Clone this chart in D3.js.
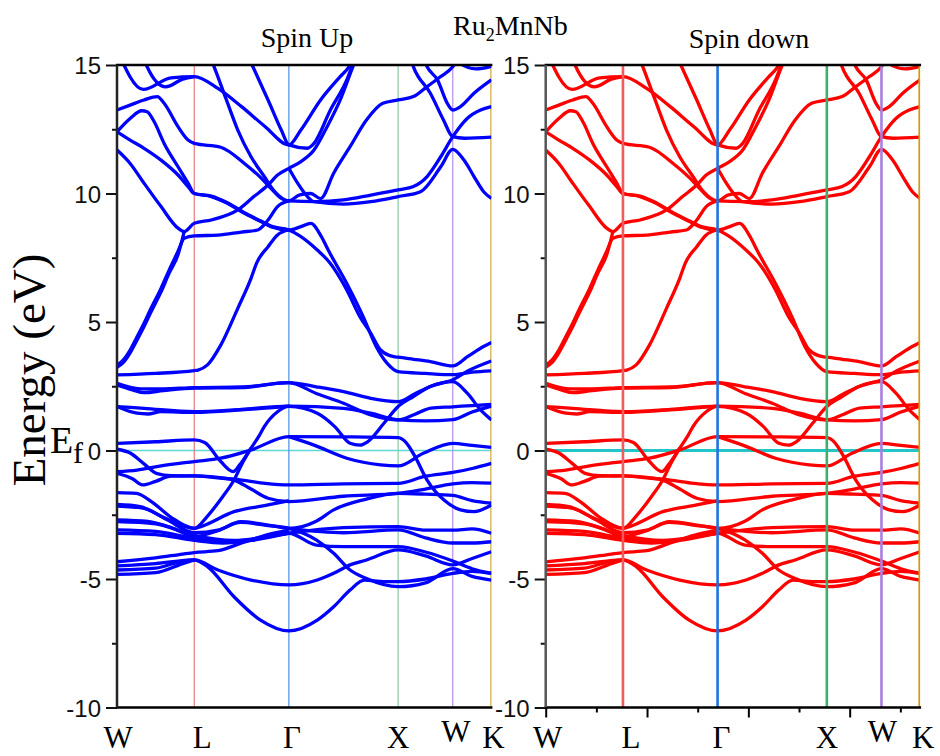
<!DOCTYPE html>
<html>
<head>
<meta charset="utf-8">
<script src="https://cdn.jsdelivr.net/npm/d3@7/dist/d3.min.js"></script>
<style>
  body { margin: 0; background: #fff; }
  svg { display: block; }
</style>
</head>
<body>
<div id="chart"></div>
<script>
// high-symmetry path W-L-G-X-W-K (fcc), band points are [t, E]
// t = position along the path in segment units: 0=W 1=L 2=G 3=X 4=W 5=K
const kLabels = ["W", "L", "Γ", "X", "W", "K"]
const kPath = [0, 0.7071, 1.5731, 2.5731, 3.0731, 3.4267]
const energyTicks = [-10, -5, 0, 5, 10, 15]
const energyMinor = [-7.5, -2.5, 2.5, 7.5, 12.5]
const kAxisTicks = [0, 1, 2, 3]
const kAxisMinor = [0.5, 1.5, 2.5, 3.5]
const kAxisMax = 3.695
const fermiLevel = 0

const upperBands = [
  [[0,15.6],[0.34,14.05],[0.7,14.5],[1,14.55],[1.25,14.09],[1.5,13.38],[1.75,12.6],[2,11.89],[2.11,12.47],[2.29,13.64],[2.47,14.55],[2.55,14.93],[2.7,16.5]],
  [[0.25,16.3],[0.39,14.93],[0.63,14.15],[0.85,14.45],[1,14.55]],
  [[1.45,16.3],[1.62,14.93],[1.78,13.64],[1.92,12.47],[2,11.89],[2.17,11.76],[2.23,11.95],[2.38,13.25],[2.53,14.42],[2.6,15.2],[2.7,16.3]],
  [[0,11.69],[0.17,11.17],[0.35,10.4],[0.57,9.49],[0.79,8.65],[0.87,8.52],[1,8.84],[1.18,8.97],[1.46,9.36],[1.63,9.88],[1.78,10.33],[1.88,10.72],[2,10.98],[2.11,11.24],[2.23,11.69],[2.35,12.6],[2.47,13.64],[2.58,14.87],[2.65,15.6]],
  [[0,13.25],[0.17,13.44],[0.35,13.64],[0.52,13.77],[0.61,13.51],[0.79,12.6],[0.92,12.08],[1,11.95],[1.28,11.8],[1.53,11.17],[1.71,10.59],[1.81,10.2],[1.92,9.81],[2,9.71],[2.25,9.68],[2.5,9.75],[2.75,9.94],[3,10.14],[3.28,10.27],[3.53,10.66],[3.78,11.43],[4,12.21],[4.38,12.93],[4.72,13.25],[5,13.38]],
  [[2,10.98],[2.08,10.4],[2.17,9.88],[2.23,9.68],[2.5,9.59],[2.75,9.68],[3,9.88],[3.41,10.07],[3.78,11.04],[4,11.72],[4.29,11.3],[4.55,10.66],[4.8,10.07],[5,9.81]],
  [[1.1,15.9],[1.21,14.93],[1.34,13.64],[1.46,12.47],[1.6,11.43],[1.74,10.66],[1.85,10.07],[2,9.71],[2.1,9.95],[2.2,10.0],[2.29,9.8],[2.41,10.79],[2.56,11.82],[2.71,12.86],[2.86,13.51],[3,13.64],[3.28,13.77],[3.53,14.16],[3.78,14.55],[4,14.93],[4.2,15.4]],
  [[3.1,16.2],[3.28,14.93],[3.59,13.9],[3.83,12.86],[4,12.21],[4.3,12.15],[5,12.19]],
  [[3.35,16],[3.53,14.93],[3.72,14.42],[3.9,13.51],[4,13.25],[4.2,13.38],[4.55,13.9],[5,14.42]],
  [[3.9,16],[4.2,15.05],[4.6,14.85],[5,14.95]],
  [[0,12.4],[0.17,12.92],[0.32,13.22],[0.39,13.18],[0.48,12.8],[0.61,11.95],[0.79,11.04],[0.92,10.4],[1,10.0],[1.18,9.88],[1.35,9.62],[1.53,9.23],[1.71,8.9],[1.81,8.71],[2,8.58],[2.11,8.71],[2.2,8.84],[2.3,8.3],[2.36,7.8],[2.53,6.5],[2.68,5.21],[2.8,4.04],[2.9,3.39],[3,3.07],[3.5,3.0],[4,2.95],[4.5,3.05],[5,3.1]],
  [[0,12.4],[0.17,12.08],[0.35,11.76],[0.57,11.3],[0.79,10.72],[0.92,10.27],[1,10.0],[1.18,9.9],[1.35,9.64],[1.53,9.25],[1.71,8.92],[1.81,8.73],[2,8.58],[2.1,8.35],[2.26,7.8],[2.38,7.28],[2.53,6.25],[2.65,5.21],[2.75,4.56],[2.84,3.91],[2.96,3.65],[3,3.63],[3.28,3.55],[3.59,3.46],[4,3.29],[4.38,3.65],[4.72,3.98],[5,4.2]]
]

const middleBands = [
  [[0,2.94],[0.5,3.0],[1,3.11],[1.04,3.13],[1.14,3.33],[1.28,4.1],[1.46,5.53],[1.6,6.7],[1.66,7.3],[1.78,7.93],[1.88,8.39],[2,8.58]],
  [[0,3.33],[0.08,3.52],[0.17,3.91],[0.26,4.43],[0.35,4.95],[0.43,5.47],[0.57,6.31],[0.675,7.02],[0.79,7.75],[0.87,8.26],[1,8.35],[1.25,8.38],[1.5,8.5],[1.67,8.58],[1.78,8.97],[1.88,9.49],[2,9.71]],
  [[0,3.24],[0.08,3.42],[0.17,3.8],[0.26,4.3],[0.35,4.82],[0.43,5.33],[0.57,6.17],[0.675,6.9],[0.79,7.62],[0.87,8.52]],
  [[0,2.61],[0.3,2.4],[0.6,2.4],[1,2.45],[1.5,2.47],[2,2.64],[2.25,2.48],[2.5,2.29],[2.75,2.03],[3,1.9],[3.3,2.2],[3.6,2.5],[4,2.75],[4.4,3.1],[5,3.48]],
  [[0,2.55],[0.2,2.36],[0.35,2.25],[0.6,2.33],[1,2.43],[1.5,2.45],[2,2.64],[2.25,2.22],[2.5,1.84],[2.75,1.38],[3,1.19],[3.3,1.4],[3.6,1.65],[4,1.7],[4.5,1.75],[5,1.79]],
  [[0,1.71],[0.35,1.64],[1,1.51],[1.5,1.6],[2,1.73],[2.5,1.64],[2.75,1.45],[3,1.19],[3.5,1.15],[4,1.2],[4.5,1.5],[5,1.73]],
  [[0,1.71],[0.26,1.45],[0.4,1.42],[0.57,1.51],[1,1.48],[1.5,1.58],[2,1.73]],
  [[0,0.28],[0.5,0.34],[1,0.41],[1.11,0.31],[1.28,-0.43],[1.41,-0.82],[1.48,-0.56],[1.6,0.09],[1.69,0.6],[1.74,0.93],[1.88,1.51],[2,1.72],[2.26,1.45],[2.42,0.93],[2.56,0.28],[2.65,0.21],[2.72,0.34],[2.87,1.06],[3,1.71],[3.28,2.1],[3.59,2.49],[4,2.68],[4.38,2.22],[4.72,1.58],[5,1.19]],
  [[0,-0.82],[0.26,-0.76],[0.57,-0.6],[1,-0.43],[1.28,-0.3],[1.6,0.02],[2,0.54],[2.5,0.53],[3,0.5],[3.15,0.3],[3.3,-0.2],[3.53,-1.15],[3.84,-1.93],[4.2,-2.31],[4.55,-2.38],[5,-2.12]],
  [[2,0.54],[2.23,0.21],[2.53,-0.3],[2.84,-0.56],[3,-0.6],[3.47,-0.1],[4,0.28],[4.5,0.2],[5,0.12]]
]

const lowerBands = [
  [[0,0.05],[0.17,-0.1],[0.35,-0.52],[0.52,-0.9],[0.7,-0.98],[1,-0.99],[1.25,-1.05],[1.42,-1.15],[1.6,-1.5],[1.78,-1.86],[2,-1.99],[2.5,-1.78],[3,-1.67],[3.5,-1.5],[4,-1.3],[4.5,-1.25],[5,-1.27]],
  [[0,-0.89],[0.2,-1.1],[0.33,-1.34],[0.5,-1.2],[0.7,-1.0],[1,-0.99],[1.25,-1.06],[1.5,-1.15],[1.75,-1.28],[2,-1.34],[2.5,-1.3],[3,-1.28],[3.5,-1.0],[4,-0.85],[4.5,-0.7],[5,-0.5]],
  [[0,-1.64],[0.25,-1.67],[0.45,-2.0],[0.7,-2.6],[1,-3.03],[1.14,-2.55],[1.3,-1.8],[1.42,-1.15],[1.5,-0.55],[1.6,0.09]],
  [[0,-2.1],[0.3,-2.18],[0.6,-2.6],[1,-3.03],[1.07,-2.96],[1.42,-2.38],[1.78,-2.12],[2,-1.95]],
  [[0,-2.16],[0.35,-2.25],[0.65,-2.7],[1,-3.2],[1.25,-3.1],[1.49,-2.77],[1.78,-2.9],[2,-3.03],[2.25,-2.75],[2.41,-2.31],[2.7,-1.9],[3,-1.67],[3.5,-1.7],[4,-1.75],[4.5,-1.95],[5,-2.05]],
  [[0,-2.7],[0.4,-2.76],[0.75,-3.06],[1,-3.35],[1.25,-3.12],[1.49,-2.8],[1.78,-2.92],[2,-3.03],[2.25,-3.48],[2.41,-4.0],[2.56,-4.65],[2.71,-4.98],[3,-5.3],[3.5,-5.15],[4,-4.6],[4.5,-4.9],[5,-5.04]],
  [[0,-2.77],[0.5,-2.85],[1,-3.3],[1.42,-3.5],[1.78,-3.35],[2,-3.22],[2.25,-3.68],[2.5,-3.74],[3,-3.74],[3.5,-3.95],[4,-4.3],[4.5,-4.6],[5,-4.78]],
  [[0,-3.09],[0.5,-3.15],[1,-3.42],[1.42,-3.55],[1.78,-3.35],[2,-3.22],[2.5,-3.0],[3,-2.96],[3.5,-3.1],[4,-3.1],[4.5,-3.05],[5,-3.22]],
  [[0,-3.22],[0.5,-3.27],[1,-3.5],[1.3,-3.6],[1.6,-3.5],[2,-3.22]],
  [[2,-3.03],[2.5,-3.2],[3,-3.09],[3.5,-3.4],[4,-3.6],[4.5,-3.6],[5,-3.55]],
  [[0,-4.33],[0.5,-4.18],[0.85,-4.03],[1,-3.97],[1.25,-3.9],[1.5,-3.6],[1.75,-3.3],[2,-3.1]],
  [[0,-4.49],[0.5,-4.4],[1,-4.26],[1.25,-4.65],[1.6,-5.04],[2,-5.23],[2.26,-5.04],[2.41,-4.78],[2.56,-4.45],[2.71,-4.26],[3,-3.87],[3.5,-4.1],[4,-4.45],[4.5,-4.2],[5,-3.94]],
  [[0,-4.65],[0.5,-4.58],[0.85,-4.3],[1,-4.26],[1.14,-4.52],[1.42,-5.69],[1.7,-6.6],[2,-7.02],[2.26,-6.6],[2.41,-6.08],[2.56,-5.43],[2.69,-5.04],[2.87,-5.1],[3,-5.1],[3.5,-5.0],[4,-4.78],[4.5,-4.7],[5,-4.78]],
  [[0,-4.82],[0.5,-4.75],[0.85,-4.4],[1,-4.26]]
]

// spin up and spin down bands are drawn from the same read-off values
const spinUpBands = [...upperBands, ...middleBands, ...lowerBands]
const spinDownBands = spinUpBands

function drawBands() {

  let dimensions = {
    width: 940,
    height: 756,
    panelWidth: 374.4,
    panelHeight: 642.5,
    top: 65,
    leftPanel: 117,
    rightPanel: 545.7,
  }

  const serif = "'Liberation Serif', 'Times New Roman', serif"
  const sans = "'Liberation Sans', Arial, sans-serif"

  const wrapper = d3.select("#chart")
    .append("svg")
      .attr("width", dimensions.width)
      .attr("height", dimensions.height)

  const tToK = d3.scaleLinear()
    .domain(d3.range(kPath.length))
    .range(kPath)

  const xScale = d3.scaleLinear()
    .domain([0, kPath[kPath.length - 1]])
    .range([0, dimensions.panelWidth])

  const yScale = d3.scaleLinear()
    .domain([-10, 15])
    .range([dimensions.panelHeight, 0])

  const lineGenerator = d3.line()
    .x(d => xScale(tToK(d[0])))
    .y(d => yScale(d[1]))
    .curve(d3.curveMonotoneX)

  function drawPanel(opts) {
    const bounds = wrapper.append("g")
      .attr("transform", `translate(${opts.left}, ${dimensions.top})`)

    bounds.append("clipPath")
        .attr("id", opts.id)
      .append("rect")
        .attr("width", dimensions.panelWidth)
        .attr("height", dimensions.panelHeight)

    const plot = bounds.append("g").attr("clip-path", `url(#${opts.id})`)

    // fermi level
    plot.append("line")
      .attr("x1", 0)
      .attr("x2", dimensions.panelWidth)
      .attr("y1", yScale(fermiLevel))
      .attr("y2", yScale(fermiLevel))
      .attr("stroke", opts.fermiColor)
      .attr("stroke-width", opts.fermiWidth)

    const kLines = plot.append("g")
    kPath.slice(1).forEach((k, i) => {
      kLines.append("line")
        .attr("x1", xScale(k))
        .attr("x2", xScale(k))
        .attr("y1", 0)
        .attr("y2", dimensions.panelHeight)
        .attr("stroke", opts.kColors[i])
        .attr("stroke-width", i == 4 ? opts.kWidth + 0.8 : opts.kWidth)
    })

    plot.append("g")
      .selectAll("path")
      .data(opts.bands)
      .join("path")
        .attr("d", lineGenerator)
        .attr("fill", "none")
        .attr("stroke", opts.bandColor)
        .attr("stroke-width", 3.3)
        .attr("stroke-linejoin", "round")

    if (opts.kLinesOnTop) kLines.raise()

    // y axis
    const yAxis = bounds.append("g")
      .call(d3.axisLeft(yScale)
        .tickValues(energyTicks)
        .tickSize(11)
        .tickPadding(5)
        .tickFormat(d => String(d)))
    yAxis.select(".domain").remove()
    yAxis.selectAll(".tick line").attr("stroke", "#111").attr("stroke-width", 2)
    yAxis.selectAll("text")
      .attr("font-family", sans)
      .attr("font-size", 24)
      .attr("fill", "#111")
      .attr("dy", "0.36em")

    const yMinor = bounds.append("g")
      .call(d3.axisLeft(yScale)
        .tickValues(energyMinor)
        .tickSize(5)
        .tickFormat(""))
    yMinor.select(".domain").remove()
    yMinor.selectAll(".tick line").attr("stroke", "#111").attr("stroke-width", 2)

    // frame
    bounds.append("line")
      .attr("x1", -1).attr("x2", dimensions.panelWidth + 1)
      .attr("y1", 0).attr("y2", 0)
      .attr("stroke", "#000").attr("stroke-width", 2.5)
    bounds.append("line")
      .attr("x1", -1).attr("x2", dimensions.panelWidth + 1)
      .attr("y1", dimensions.panelHeight).attr("y2", dimensions.panelHeight)
      .attr("stroke", "#000").attr("stroke-width", 2.5)
    bounds.append("line")
      .attr("x1", 0).attr("x2", 0)
      .attr("y1", 0).attr("y2", dimensions.panelHeight)
      .attr("stroke", opts.axisColor).attr("stroke-width", 2.5)

    if (opts.bottomTicks) {
      const kAxisScale = d3.scaleLinear()
        .domain([0, kAxisMax])
        .range([0, dimensions.panelWidth])
      const xMajor = bounds.append("g")
        .attr("transform", `translate(0, ${dimensions.panelHeight})`)
        .call(d3.axisBottom(kAxisScale).tickValues(kAxisTicks).tickSize(10).tickFormat(""))
      const xMinor = bounds.append("g")
        .attr("transform", `translate(0, ${dimensions.panelHeight})`)
        .call(d3.axisBottom(kAxisScale).tickValues(kAxisMinor).tickSize(5).tickFormat(""))
      xMajor.select(".domain").remove()
      xMinor.select(".domain").remove()
      bounds.selectAll(".tick line").attr("stroke-width", 2)
    }

    // k-point labels
    bounds.append("g")
      .selectAll("text")
      .data(kLabels)
      .join("text")
        .attr("x", (d, i) => xScale(kPath[i]) + opts.labelShift[i])
        .attr("y", (d, i) => i == 4 ? 677 : 683)
        .attr("text-anchor", "middle")
        .attr("font-family", serif)
        .attr("font-size", 31)
        .attr("fill", "#000")
        .text(d => d)

    return bounds
  }

  const leftBounds = drawPanel({
    id: "clip-up",
    left: dimensions.leftPanel,
    bands: spinUpBands,
    bandColor: "#0000ff",
    fermiColor: "#5fd8d8",
    fermiWidth: 1.5,
    kColors: ["#e87878", "#4a90e8", "#86c9a2", "#b78ee8", "#c9960f"],
    kWidth: 1.2,
    axisColor: "#222",
    kLinesOnTop: false,
    bottomTicks: false,
    labelShift: [1, 8, 3, 0, 3, 2],
  })

  const rightBounds = drawPanel({
    id: "clip-down",
    left: dimensions.rightPanel,
    bands: spinDownBands,
    bandColor: "#ff0000",
    fermiColor: "#22c6c9",
    fermiWidth: 3,
    kColors: ["#f05c5c", "#1f74e0", "#3fae6c", "#a97fe0", "#d29810"],
    kWidth: 2.6,
    axisColor: "#555",
    kLinesOnTop: true,
    bottomTicks: true,
    labelShift: [2, 8, 4, 0, 1, 3],
  })

  // E_f marker next to the zero tick of the left panel
  leftBounds.append("text")
    .attr("x", -67)
    .attr("y", yScale(0) + 2)
    .attr("font-family", serif)
    .attr("font-size", 38)
    .text("E")
  leftBounds.append("text")
    .attr("x", -44)
    .attr("y", yScale(0) + 12)
    .attr("font-family", serif)
    .attr("font-size", 30)
    .text("f")

  // titles
  wrapper.append("text")
    .attr("x", 307)
    .attr("y", 47)
    .attr("text-anchor", "middle")
    .attr("font-family", serif)
    .attr("font-size", 28)
    .text("Spin Up")

  wrapper.append("text")
    .attr("x", 749)
    .attr("y", 48)
    .attr("text-anchor", "middle")
    .attr("font-family", serif)
    .attr("font-size", 28)
    .text("Spin down")

  const compound = wrapper.append("text")
    .attr("x", 453)
    .attr("y", 35)
    .attr("font-family", serif)
    .attr("font-size", 28)
  compound.append("tspan").text("Ru")
  compound.append("tspan").attr("font-size", 18).attr("dy", 6).text("2")
  compound.append("tspan").attr("dy", -6).text("MnNb")

  wrapper.append("text")
    .attr("transform", "translate(45, 370) rotate(-90)")
    .attr("text-anchor", "middle")
    .attr("font-family", serif)
    .attr("font-size", 47)
    .text("Energy (eV)")
}

drawBands()
</script>
</body>
</html>
